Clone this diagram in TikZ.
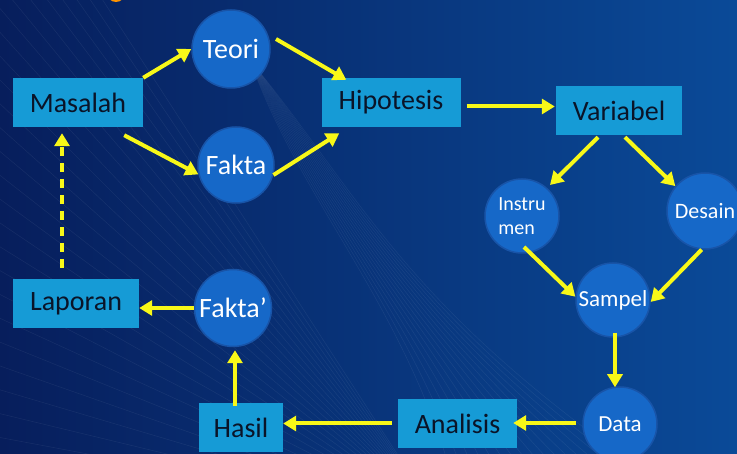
\documentclass[tikz,border=0pt]{standalone}
\usepackage{fontspec}
\setmainfont{Carlito}
\usetikzlibrary{arrows.meta,calc}

\definecolor{bgdark}{RGB}{7,30,92}
\definecolor{bglight}{RGB}{10,74,152}
\definecolor{kotakbiru}{RGB}{22,155,214}
\definecolor{bulatbiru}{RGB}{22,104,200}
\definecolor{bulattepi}{RGB}{24,84,168}
\definecolor{kuning}{RGB}{248,248,24}
\definecolor{teksgelap}{RGB}{10,20,40}

\begin{document}
\begin{tikzpicture}[x=1pt,y=-1pt,
    kotak/.style={rectangle, fill=kotakbiru, text=teksgelap, inner sep=0pt, minimum height=49pt, font=\fontsize{28}{32}\selectfont},
    bulat/.style={circle, fill=bulatbiru, draw=bulattepi, line width=1.5pt, text=white, inner sep=0pt, minimum size=76pt, font=\fontsize{28}{30}\selectfont},
    kecil/.style={font=\fontsize{23}{24}\selectfont},
    panah/.style={draw=kuning, line width=4pt, -{Triangle[width=15pt,length=13pt]}},
    putus/.style={dash pattern=on 9pt off 7pt},
    jaring/.style={white, opacity=0.06, line width=0.6pt}]
    \useasboundingbox (0,0) rectangle (737,454);
    \clip (0,0) rectangle (737,454);
    \shade[left color=bgdark, right color=bglight] (0,0) rectangle (737,454);
    % background lines
    \foreach \k in {0,...,30} \draw[jaring] (440,520) -- (-40,{560-\k*26});
    \foreach \k in {0,...,16} \draw[jaring] (250,60) .. controls ({300+\k*4},200) and (400,300) .. ({450+\k*12},470);
    \fill[orange!85!yellow] (116,-7) circle (9pt);

    \node[kotak, minimum width=130pt] (MS) at (78,102.5) {Masalah};
    \node[bulat, minimum size=78pt] (TE) at (231,49) {Teori};
    \node[bulat] (FA) at (236,165) {Fakta};
    \node[kotak, minimum width=139pt] (HP) at (391,102.5) {Hipotesis};
    \node[kotak, minimum width=126pt] (VA) at (619,110.5) {Variabel};
    \node[bulat, minimum size=74pt, align=left, font=\fontsize{20}{24}\selectfont] (IN) at (522,216) {Instru\\men};
    \node[bulat, font=\fontsize{22}{24}\selectfont] (DE) at (705,211) {Desain};
    \node[bulat, kecil, minimum size=74pt] (SA) at (613,300) {Sampel};
    \node[bulat, kecil, minimum size=74pt] (DA) at (620,424) {Data};
    \node[kotak, minimum width=119pt] (AN) at (457.5,423.5) {Analisis};
    \node[kotak, minimum width=84pt] (HA) at (241,427.5) {Hasil};
    \node[bulat, minimum size=77pt] (FB) at (233,308) {Fakta’};
    \node[kotak, minimum width=126pt] (LA) at (76,303.5) {Laporan};

    \draw[panah] (MS.north east) -- (TE.west);
    \draw[panah] ($(MS.south east)+(-19,8)$) -- (FA.194);
    \draw[panah] ($(TE.center)+(45,-10)$) -- ($(HP.north west)+(25,2)$);
    \draw[panah] (FA.-15) -- ($(HP.south west)+(18,6)$);
    \draw[panah] ($(HP.east)+(6,4)$) -- ($(VA.west)+(-1,-4)$);
    \draw[panah] ($(VA.south)+(-21,2)$) -- ($(IN.center)+(28,-31)$);
    \draw[panah] ($(VA.south)+(6,2)$) -- (DE.140);
    \draw[panah] ($(IN.center)+(2,31)$) -- (SA.175);
    \draw[panah] (DE.-95) -- (SA.-3);
    \draw[panah] ($(SA.south)+(2,-5)$) -- ($(DA.north)+(-5,1)$);
    \draw[panah] ($(DA.west)+(-6,-1)$) -- ($(AN.east)+(-4,-0.5)$);
    \draw[panah] ($(AN.west)+(-6,0)$) -- (AN.west -| HA.east);
    \draw[panah] ($(HA.north)+(-6,3)$) -- ($(FB.south)+(2,3)$);
    \draw[panah] (FB.west) -- (FB.west -| LA.east);
    \draw[panah, putus] ($(LA.north)+(-14,-11)$) -- ($(MS.south)+(-16,6)$);
\end{tikzpicture}
\end{document}
